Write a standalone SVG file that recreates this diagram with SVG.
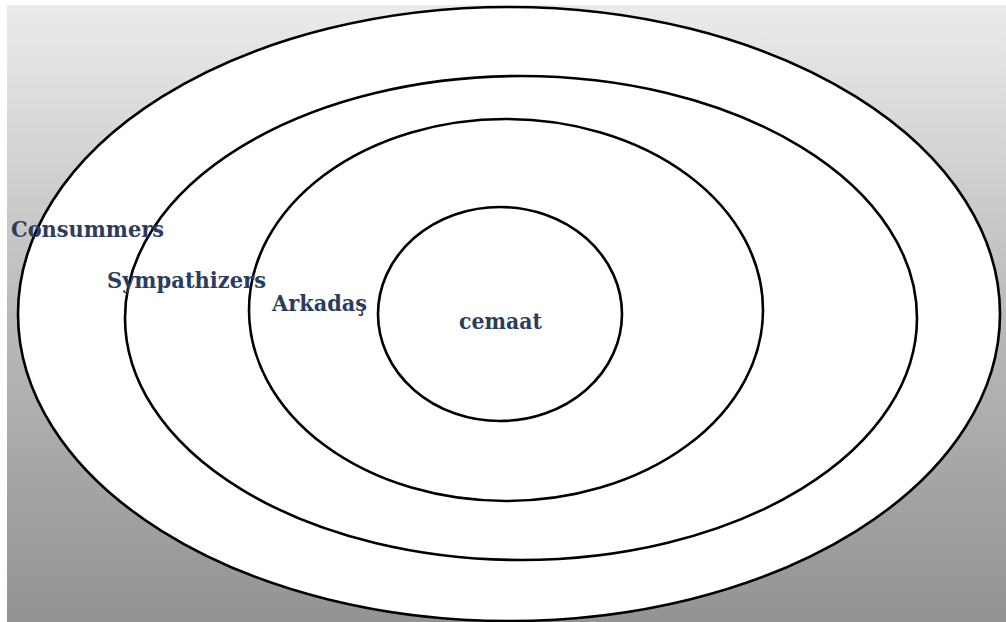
<svg xmlns="http://www.w3.org/2000/svg" width="1006" height="622" viewBox="0 0 1006 622">
<defs>
<linearGradient id="bg" x1="0" y1="0" x2="0" y2="1">
<stop offset="0" stop-color="#ebebeb"/>
<stop offset="0.5" stop-color="#bababa"/>
<stop offset="1" stop-color="#939393"/>
</linearGradient>
<style>
.ring{fill:#ffffff;stroke:#000000;stroke-width:2.6}
.lbl{font-family:"DejaVu Serif","Liberation Serif",serif;font-weight:bold;font-size:22px;fill:#2d3c5c}
</style>
</defs>
<rect x="0" y="0" width="1006" height="622" fill="#ffffff"/>
<rect x="7" y="5" width="999" height="617" fill="url(#bg)"/>
<g id="consumers">
<ellipse class="ring" cx="509" cy="314" rx="491" ry="307"/>
</g>
<g id="sympathizers">
<ellipse class="ring" cx="521" cy="318" rx="396" ry="242"/>
</g>
<g id="arkadas">
<ellipse class="ring" cx="506" cy="310" rx="257" ry="191"/>
</g>
<g id="cemaat">
<ellipse class="ring" cx="500" cy="314" rx="122" ry="107"/>
</g>
<g id="labels">
<text class="lbl" x="11" y="237" textLength="153" lengthAdjust="spacingAndGlyphs">Consummers</text>
<text class="lbl" x="107" y="288" textLength="159" lengthAdjust="spacingAndGlyphs">Sympathizers</text>
<text class="lbl" x="272" y="311" textLength="95" lengthAdjust="spacingAndGlyphs">Arkadaş</text>
<text class="lbl" x="459" y="329" textLength="83" lengthAdjust="spacingAndGlyphs">cemaat</text>
</g>
<g id="connectors"/>
</svg>
